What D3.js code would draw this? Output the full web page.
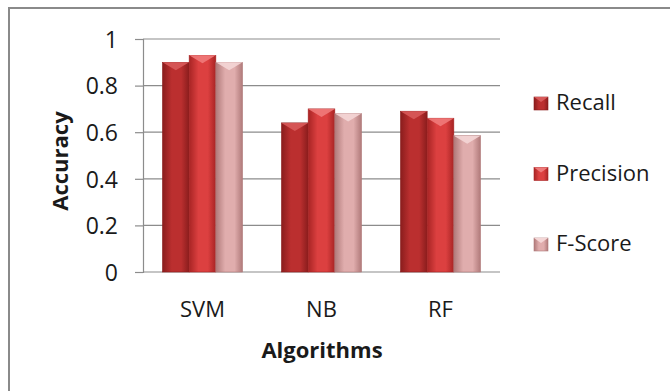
<!DOCTYPE html>
<html>
<head>
<meta charset="utf-8">
<script src="https://cdn.jsdelivr.net/npm/d3@7"></script>
<style>
  html, body { margin: 0; padding: 0; background: #fff; }
  svg { display: block; }
  text { font-family: "Open Sans", "Noto Sans", sans-serif; fill: #1a1a1a; }
</style>
</head>
<body>
<svg id="chart" width="670" height="391"></svg>
<script>
const categories = ["SVM", "NB", "RF"];
const seriesNames = ["Recall", "Precision", "F-Score"];
const recall = [0.90, 0.64, 0.69];
const precision = [0.93, 0.70, 0.66];
const fscore = [0.90, 0.68, 0.585];
const yTicks = [0, 0.2, 0.4, 0.6, 0.8, 1];
const yTickLabels = ["0", "0.2", "0.4", "0.6", "0.8", "1"];
const xTitle = "Algorithms";
const yTitle = "Accuracy";

const seriesValues = [recall, precision, fscore];
const colors = [
  { edge: "#8a1d1d", mid: "#bb2f2f", top: "#d85a5a" },
  { edge: "#a82424", mid: "#dc4040", top: "#ef7a7a" },
  { edge: "#b07a7a", mid: "#e0adad", top: "#f4d6d6" }
];

const svg = d3.select("#chart");
const defs = svg.append("defs");
colors.forEach((c, i) => {
  const g = defs.append("linearGradient").attr("id", "grad" + i)
    .attr("x1", "0%").attr("x2", "100%").attr("y1", "0%").attr("y2", "0%");
  g.append("stop").attr("offset", "0%").attr("stop-color", c.edge);
  g.append("stop").attr("offset", "35%").attr("stop-color", c.mid);
  g.append("stop").attr("offset", "70%").attr("stop-color", c.mid);
  g.append("stop").attr("offset", "100%").attr("stop-color", c.edge);
});

// outer frame
svg.append("path")
  .attr("d", "M9,400 L9,8 L680,8")
  .attr("fill", "none").attr("stroke", "#8a8a8a").attr("stroke-width", 2);

const plot = { left: 143, right: 500, top: 39, bottom: 272 };
const y = d3.scaleLinear().domain([0, 1]).range([plot.bottom, plot.top]);
const x0 = d3.scaleBand().domain(categories).range([plot.left, plot.right]).padding(0);
const x1 = d3.scaleBand().domain(seriesNames).range([0, x0.bandwidth()])
  .paddingInner(0).paddingOuter(0.73);

// gridlines
svg.append("g").selectAll("line").data(yTicks).join("line")
  .attr("x1", plot.left).attr("x2", plot.right)
  .attr("y1", d => y(d)).attr("y2", d => y(d))
  .attr("stroke", "#8c8c8c").attr("stroke-width", 1.2);

// y axis
const yAxis = d3.axisLeft(y).tickValues(yTicks)
  .tickFormat((d, i) => yTickLabels[i]).tickSize(8).tickPadding(17);
const yg = svg.append("g").attr("transform", `translate(${plot.left},0)`).call(yAxis);
yg.select(".domain").attr("stroke", "#8c8c8c").attr("stroke-width", 1.2);
yg.selectAll(".tick line").attr("stroke", "#8c8c8c").attr("stroke-width", 1.2);
yg.selectAll(".tick text").style("font-size", "23px").attr("fill", "#1a1a1a")
  .attr("dy", "0.36em")
  .style("font-family", "'Open Sans', sans-serif");

// x axis labels
const xAxis = d3.axisBottom(x0).tickSize(0).tickPadding(29);
const xg = svg.append("g").attr("transform", `translate(0,${plot.bottom})`).call(xAxis);
xg.select(".domain").remove();
xg.selectAll(".tick text").style("font-size", "22px").attr("fill", "#1a1a1a")
  .attr("dy", "0.71em")
  .style("font-family", "'Open Sans', sans-serif");

// bars
const rows = [];
categories.forEach((cat, ci) => {
  seriesNames.forEach((s, si) => rows.push({ cat, s, si, v: seriesValues[si][ci] }));
});
const bars = svg.append("g").selectAll("g").data(rows).join("g");
bars.append("rect")
  .attr("x", d => x0(d.cat) + x1(d.s))
  .attr("y", d => y(d.v))
  .attr("width", x1.bandwidth())
  .attr("height", d => y(0) - y(d.v))
  .attr("fill", d => `url(#grad${d.si})`)
  .attr("stroke", d => colors[d.si].edge).attr("stroke-width", 0.6);
// bevel on top
bars.append("path")
  .attr("d", d => {
    const xl = x0(d.cat) + x1(d.s), w = x1.bandwidth(), yt = y(d.v);
    return `M${xl},${yt} L${xl + w},${yt} L${xl + w / 2},${yt + 8} Z`;
  })
  .attr("fill", d => colors[d.si].top).attr("opacity", 0.9);

// axis titles
svg.append("text").attr("x", 322).attr("y", 358).attr("text-anchor", "middle")
  .style("font-size", "22px").style("font-weight", "bold").text(xTitle);
svg.append("text").attr("transform", "translate(68,161) rotate(-90)")
  .attr("text-anchor", "middle")
  .style("font-size", "22px").style("font-weight", "bold").text(yTitle);

// legend
const leg = svg.append("g").selectAll("g").data(seriesNames).join("g")
  .attr("transform", (d, i) => `translate(534,${97 + i * 70.5})`);
leg.append("rect").attr("width", 14).attr("height", 13)
  .attr("fill", (d, i) => `url(#grad${i})`)
  .attr("stroke", (d, i) => colors[i].edge).attr("stroke-width", 0.6);
leg.append("path").attr("d", "M0,0 L14,0 L7,5 Z")
  .attr("fill", (d, i) => colors[i].top);
leg.append("text").attr("x", 22).attr("y", 13)
  .style("font-size", "22px").text(d => d);
</script>
</body>
</html>
